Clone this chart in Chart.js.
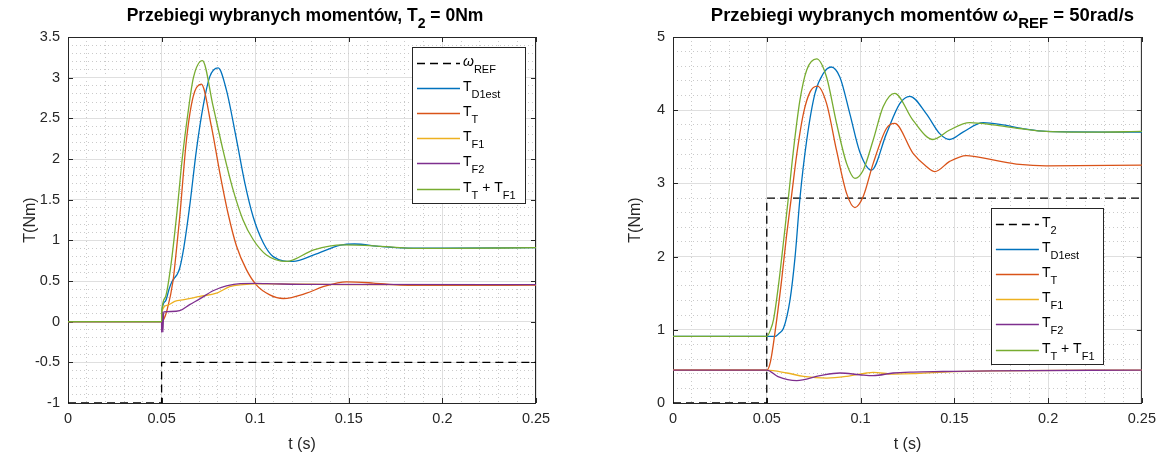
<!DOCTYPE html>
<html>
<head>
<meta charset="utf-8">
<script src="https://cdn.jsdelivr.net/npm/chart.js@4.4.0/dist/chart.umd.min.js"></script>
<style>
  body { margin: 0; background: #fff; }
  #wrap { position: relative; width: 1163px; height: 457px; }
  canvas { position: absolute; top: 0; }
  #left { left: 0; }
  #right { left: 581px; }
</style>
</head>
<body>
<div id="wrap">
  <canvas id="left" width="581" height="457"></canvas>
  <canvas id="right" width="582" height="457"></canvas>
</div>
<script>
// tick labels
const xTickLabels = ['0', '0.05', '0.1', '0.15', '0.2', '0.25'];
const leftYTickLabels = ['-1', '-0.5', '0', '0.5', '1', '1.5', '2', '2.5', '3', '3.5'];
const rightYTickLabels = ['0', '1', '2', '3', '4', '5'];

// left plot: T2 = 0 Nm  (time in s, torque in Nm)
const leftRefT = [0, 0.05, 0.25];
const leftRefV = [-1, -0.5, -0.5];
const leftTD1estT = [0, 0.05, 0.0501, 0.052, 0.054, 0.0555, 0.057, 0.0585, 0.0597, 0.062, 0.065, 0.0686, 0.0722, 0.0757, 0.0802, 0.0846, 0.09, 0.0945, 0.0989, 0.1043, 0.1096, 0.1203, 0.1313, 0.1456, 0.153, 0.167, 0.185, 0.2, 0.25];
const leftTD1estV = [0, 0, 0.12, 0.25, 0.40, 0.49, 0.54, 0.59, 0.66, 0.93, 1.42, 2.11, 2.65, 3.01, 3.12, 2.85, 2.24, 1.70, 1.29, 0.97, 0.80, 0.741, 0.82, 0.94, 0.955, 0.925, 0.905, 0.905, 0.91];
const leftTTT = [0, 0.05, 0.051, 0.053, 0.0561, 0.058, 0.0597, 0.0633, 0.0669, 0.0712, 0.0766, 0.0811, 0.0855, 0.09, 0.0953, 0.1007, 0.1078, 0.115, 0.1274, 0.1363, 0.1488, 0.1631, 0.1774, 0.2, 0.25];
const leftTTV = [0, 0, 0.02, 0.15, 0.5, 0.9, 1.29, 2.24, 2.77, 2.92, 2.40, 1.83, 1.33, 0.93, 0.64, 0.45, 0.33, 0.285, 0.35, 0.43, 0.49, 0.475, 0.45, 0.445, 0.45];
const leftTF1T = [0, 0.05, 0.0501, 0.053, 0.057, 0.062, 0.0704, 0.0793, 0.0864, 0.0935, 0.1, 0.11, 0.13, 0.15, 0.25];
const leftTF1V = [0, 0, 0.12, 0.2, 0.25, 0.27, 0.31, 0.35, 0.43, 0.455, 0.465, 0.465, 0.46, 0.455, 0.455];
const leftTF2T = [0, 0.05, 0.05001, 0.0504, 0.0507, 0.0511, 0.055, 0.0597, 0.065, 0.0704, 0.0775, 0.0846, 0.092, 0.1, 0.11, 0.13, 0.25];
const leftTF2V = [0, 0, -0.13, 0.12, -0.13, 0.12, 0.125, 0.135, 0.21, 0.28, 0.38, 0.44, 0.468, 0.47, 0.465, 0.458, 0.455];
const leftSumT = [0, 0.05, 0.0501, 0.052, 0.055, 0.058, 0.061, 0.064, 0.067, 0.0718, 0.0775, 0.0828, 0.0882, 0.0935, 0.0989, 0.106, 0.1167, 0.1313, 0.147, 0.165, 0.181, 0.2, 0.25];
const leftSumV = [0, 0, 0.12, 0.3, 0.7, 1.3, 2.0, 2.55, 3.0, 3.21, 2.65, 2.11, 1.62, 1.25, 1.01, 0.82, 0.741, 0.884, 0.945, 0.93, 0.905, 0.90, 0.91];

// right plot: wREF = 50 rad/s
const rightT2T = [0, 0.05, 0.25];
const rightT2V = [0, 2.8, 2.8];
const rightTD1estT = [0, 0.05, 0.0545, 0.0565, 0.0589, 0.0624, 0.0651, 0.0677, 0.0713, 0.0757, 0.0801, 0.0843, 0.089, 0.0943, 0.0996, 0.1058, 0.1138, 0.1209, 0.1263, 0.1351, 0.1422, 0.1475, 0.1546, 0.1653, 0.1759, 0.1884, 0.199, 0.25];
const rightTD1estV = [0.91, 0.91, 0.91, 0.95, 1.02, 1.41, 2.0, 2.80, 3.59, 4.23, 4.5, 4.59, 4.45, 3.95, 3.43, 3.18, 3.68, 4.09, 4.19, 3.95, 3.68, 3.60, 3.70, 3.83, 3.80, 3.74, 3.71, 3.70];
const rightTTT = [0, 0.05, 0.052, 0.0553, 0.058, 0.0606, 0.0633, 0.066, 0.0695, 0.0731, 0.077, 0.0819, 0.0872, 0.0926, 0.097, 0.1014, 0.1067, 0.1138, 0.1182, 0.128, 0.1351, 0.1396, 0.1475, 0.1564, 0.1706, 0.1848, 0.199, 0.25];
const rightTTV = [0.45, 0.45, 0.57, 1.14, 1.7, 2.3, 2.85, 3.4, 3.95, 4.25, 4.33, 4.09, 3.45, 2.86, 2.67, 2.82, 3.27, 3.75, 3.82, 3.41, 3.23, 3.16, 3.30, 3.38, 3.32, 3.26, 3.24, 3.25];
const rightTF1T = [0, 0.05, 0.0607, 0.0696, 0.082, 0.0927, 0.1033, 0.1067, 0.1174, 0.128, 0.144, 0.1706, 0.25];
const rightTF1V = [0.45, 0.45, 0.41, 0.364, 0.34, 0.364, 0.41, 0.418, 0.395, 0.40, 0.423, 0.44, 0.45];
const rightTF2T = [0, 0.05, 0.056, 0.066, 0.0784, 0.089, 0.0996, 0.1067, 0.1174, 0.128, 0.144, 0.1706, 0.25];
const rightTF2V = [0.45, 0.45, 0.36, 0.305, 0.373, 0.41, 0.386, 0.373, 0.41, 0.423, 0.43, 0.44, 0.45];
const rightSumT = [0, 0.05, 0.052, 0.0536, 0.0562, 0.0589, 0.0615, 0.0642, 0.0677, 0.0713, 0.0766, 0.0819, 0.0872, 0.0926, 0.097, 0.1014, 0.1067, 0.1121, 0.1182, 0.128, 0.1386, 0.1475, 0.1582, 0.1706, 0.1848, 0.199, 0.2238, 0.25];
const rightSumV = [0.91, 0.91, 1.0, 1.14, 1.6, 2.2, 2.80, 3.45, 4.14, 4.55, 4.70, 4.45, 3.82, 3.27, 3.07, 3.18, 3.59, 4.05, 4.23, 3.86, 3.60, 3.73, 3.83, 3.80, 3.75, 3.71, 3.70, 3.71];

const FONT = '"Liberation Sans", Arial, Helvetica, sans-serif';
const INK = '#262626';
const colors = {
    ref: '#000000',
    d1est: '#0072BD',
    tt: '#D95319',
    tf1: '#EDB120',
    tf2: '#7E2F8E',
    sum: '#77AC30'
};

function zip(ts, vs) {
    return ts.map((t, i) => ({ x: t, y: vs[i] }));
}

function isMajor(v, step) {
    return Math.abs(v / step - Math.round(v / step)) < 1e-6;
}

// text with sub-scripts: parts are [text, kind], kind 0 normal, 1 subscript, 2 italic
function richText(ctx, parts, x, y, size, weight, subDrop, align) {
    const subSize = Math.round(size * 0.8);
    const fontOf = p => `${p[1] === 2 ? 'italic ' : ''}${weight} ${p[1] === 1 ? subSize : size}px ${FONT}`;
    let w = 0;
    parts.forEach(p => { ctx.font = fontOf(p); w += ctx.measureText(p[0]).width; });
    let cx = align === 'center' ? x - w / 2 : x;
    ctx.textAlign = 'left';
    ctx.textBaseline = 'alphabetic';
    parts.forEach(p => {
        ctx.font = fontOf(p);
        ctx.fillText(p[0], cx, y + (p[1] === 1 ? subDrop : 0));
        cx += ctx.measureText(p[0]).width;
    });
}

const framePlugin = {
    id: 'frame',
    beforeDatasetsDraw(chart, args, opts) {
        const { ctx, chartArea: a } = chart;
        const xs = chart.scales.x, ys = chart.scales.y;
        ctx.save();
        ctx.strokeStyle = INK;
        ctx.lineWidth = 1;
        ctx.strokeRect(a.left + 0.5, a.top + 0.5, a.right - a.left - 1, a.bottom - a.top);
        ctx.beginPath();
        xs.ticks.forEach(t => {
            if (!isMajor(t.value, 0.05)) return;
            const px = Math.round(xs.getPixelForValue(t.value)) + 0.5;
            ctx.moveTo(px, a.top); ctx.lineTo(px, a.top + 5);
            ctx.moveTo(px, a.bottom); ctx.lineTo(px, a.bottom - 5);
        });
        ys.ticks.forEach(t => {
            if (!isMajor(t.value, opts.yMajor)) return;
            const py = Math.round(ys.getPixelForValue(t.value)) + 0.5;
            ctx.moveTo(a.left, py); ctx.lineTo(a.left + 5, py);
            ctx.moveTo(a.right, py); ctx.lineTo(a.right - 5, py);
        });
        ctx.stroke();
        ctx.restore();
    },
    afterDraw(chart, args, opts) {
        const { ctx, chartArea: a } = chart;
        const midX = (a.left + a.right) / 2;
        ctx.save();
        ctx.fillStyle = '#000';
        richText(ctx, opts.title, midX + opts.titleShift, 21, opts.titleSize, 'bold', 7, 'center');

        // axis labels
        ctx.fillStyle = INK;
        ctx.font = `16px ${FONT}`;
        ctx.textAlign = 'center';
        ctx.textBaseline = 'alphabetic';
        ctx.fillText('t (s)', midX, 449);
        ctx.save();
        ctx.translate(a.left - 37, (a.top + a.bottom) / 2);
        ctx.rotate(-Math.PI / 2);
        ctx.textBaseline = 'middle';
        ctx.fillText('T(Nm)', 0, 0);
        ctx.restore();

        // legend box
        const lg = opts.legend;
        const bx = a.right - lg.right - lg.width;
        const by = a.top + lg.top;
        ctx.fillStyle = '#fff';
        ctx.fillRect(bx, by, lg.width, lg.height);
        ctx.strokeStyle = INK;
        ctx.lineWidth = 1;
        ctx.strokeRect(Math.round(bx) + 0.5, Math.round(by) + 0.5, lg.width, lg.height);
        chart.data.datasets.forEach((ds, i) => {
            const ry = Math.round(by + 16 + i * 25.1) + 0.5;
            ctx.save();
            ctx.strokeStyle = ds.borderColor;
            ctx.lineWidth = ds.borderWidth;
            ctx.setLineDash(ds.borderDash || []);
            ctx.beginPath();
            ctx.moveTo(bx + 5, ry);
            ctx.lineTo(bx + 48, ry);
            ctx.stroke();
            ctx.restore();
            ctx.fillStyle = '#000';
            richText(ctx, lg.labels[i], bx + 51, ry + 2, 14, 'normal', 7, 'left');
        });
        ctx.restore();
    }
};

function line(ts, vs, color, order, dashed) {
    return {
        data: zip(ts, vs),
        borderColor: color,
        borderWidth: 1.3,
        borderDash: dashed ? [8, 5] : [],
        stepped: dashed ? true : false,
        cubicInterpolationMode: 'monotone',
        pointRadius: 0,
        fill: false,
        order: order
    };
}

function makeChart(id, cfg) {
    new Chart(document.getElementById(id), {
        type: 'line',
        data: { datasets: cfg.datasets },
        options: {
            responsive: false,
            animation: false,
            devicePixelRatio: 1,
            layout: { padding: { top: 37, right: cfg.padRight, left: 0, bottom: 0 } },
            plugins: {
                legend: { display: false },
                tooltip: { enabled: false },
                frame: {
                    title: cfg.title,
                    titleSize: cfg.titleSize,
                    titleShift: cfg.titleShift,
                    legend: cfg.legend,
                    yMajor: cfg.yMajor
                }
            },
            scales: {
                x: {
                    type: 'linear',
                    min: 0,
                    max: 0.25,
                    afterFit: s => { s.height = 54; },
                    ticks: {
                        stepSize: 0.01,
                        autoSkip: false,
                        maxRotation: 0,
                        minRotation: 0,
                        padding: 7,
                        color: INK,
                        font: { family: FONT, size: 14.5 },
                        callback: v => isMajor(v, 0.05) ? xTickLabels[Math.round(v / 0.05)] : ''
                    },
                    grid: {
                        drawTicks: false,
                        color: c => isMajor(c.tick.value, 0.05) ? '#dfdfdf' : '#cacaca'
                    },
                    border: {
                        display: false,
                        dash: c => isMajor(c.tick.value, 0.05) ? [] : [1, 3]
                    }
                },
                y: {
                    min: cfg.yMin,
                    max: cfg.yMax,
                    afterFit: s => { s.width = cfg.yWidth; },
                    ticks: {
                        stepSize: cfg.yMinor,
                        autoSkip: false,
                        padding: 8,
                        color: INK,
                        font: { family: FONT, size: 14.5 },
                        callback: v => isMajor(v, cfg.yMajor) ? cfg.yLabels[Math.round((v - cfg.yMin) / cfg.yMajor)] : ''
                    },
                    grid: {
                        drawTicks: false,
                        color: c => isMajor(c.tick.value, cfg.yMajor) ? '#dfdfdf' : '#cacaca'
                    },
                    border: {
                        display: false,
                        dash: c => isMajor(c.tick.value, cfg.yMajor) ? [] : [1, 3]
                    }
                }
            }
        },
        plugins: [framePlugin]
    });
}

const legendRows = [
    [['T', 0], ['D1est', 1]],
    [['T', 0], ['T', 1]],
    [['T', 0], ['F1', 1]],
    [['T', 0], ['F2', 1]],
    [['T', 0], ['T', 1], [' + T', 0], ['F1', 1]]
];

makeChart('left', {
    padRight: 45,
    yWidth: 68,
    yMin: -1, yMax: 3.5, yMajor: 0.5, yMinor: 0.1,
    yLabels: leftYTickLabels,
    title: [['Przebiegi wybranych momentów, T', 0], ['2', 1], [' = 0Nm', 0]],
    titleSize: 17.5,
    titleShift: 3,
    legend: { right: 11, top: 10, width: 113, height: 156, labels: [[['ω', 2], ['REF', 1]]].concat(legendRows) },
    datasets: [
        line(leftRefT, leftRefV, colors.ref, 5, true),
        line(leftTD1estT, leftTD1estV, colors.d1est, 4),
        line(leftTTT, leftTTV, colors.tt, 3),
        line(leftTF1T, leftTF1V, colors.tf1, 2),
        line(leftTF2T, leftTF2V, colors.tf2, 1),
        line(leftSumT, leftSumV, colors.sum, 0)
    ]
});

makeChart('right', {
    padRight: 20,
    yWidth: 92,
    yMin: 0, yMax: 5, yMajor: 1, yMinor: 0.2,
    yLabels: rightYTickLabels,
    title: [['Przebiegi wybranych momentów ', 0], ['ω', 2], ['REF', 1], [' = 50rad/s', 0]],
    titleSize: 18.5,
    titleShift: 15,
    legend: { right: 39, top: 171, width: 112, height: 156, labels: [[['T', 0], ['2', 1]]].concat(legendRows) },
    datasets: [
        line(rightT2T, rightT2V, colors.ref, 5, true),
        line(rightTD1estT, rightTD1estV, colors.d1est, 4),
        line(rightTTT, rightTTV, colors.tt, 3),
        line(rightTF1T, rightTF1V, colors.tf1, 2),
        line(rightTF2T, rightTF2V, colors.tf2, 1),
        line(rightSumT, rightSumV, colors.sum, 0)
    ]
});
</script>
</body>
</html>
